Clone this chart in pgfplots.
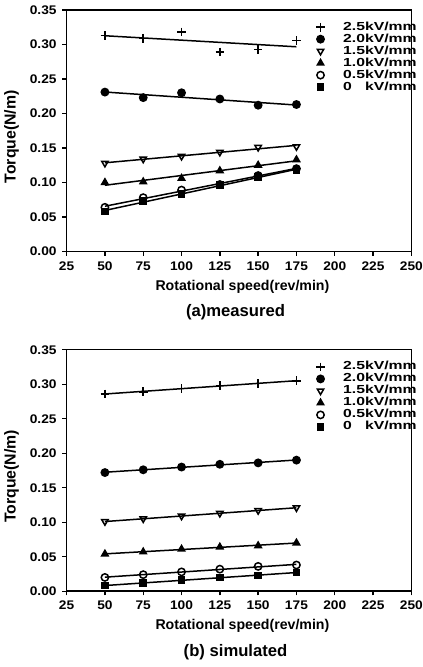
\documentclass[border=0pt]{standalone}
\usepackage{pgfplots}
\usepackage{pgfplotstable}
\pgfplotsset{compat=1.18}
\usepackage{fontspec}
\setmainfont{Liberation Sans}
\newfontfamily\tickfont[FakeStretch=1.1]{Liberation Sans}
\newfontfamily\legfont[FakeStretch=1.35]{Liberation Sans}

% measured torque (N/m) vs rotational speed (rev/min)
\pgfplotstableread{
x   k25    k20    k15    k10    k05    k00
50  0.313  0.231  0.128  0.100  0.064  0.058
75  0.309  0.223  0.134  0.101  0.078  0.073
100 0.318  0.230  0.138  0.106  0.089  0.083
125 0.289  0.221  0.144  0.117  0.097  0.096
150 0.293  0.212  0.151  0.125  0.110  0.108
175 0.306  0.213  0.152  0.133  0.120  0.118
}\measured

% simulated
\pgfplotstableread{
x   k25    k20    k15    k10    k05    k00
50  0.286  0.172  0.101  0.054  0.020  0.008
75  0.289  0.176  0.105  0.057  0.024  0.012
100 0.294  0.180  0.109  0.061  0.028  0.016
125 0.298  0.184  0.113  0.064  0.032  0.020
150 0.301  0.186  0.117  0.066  0.036  0.023
175 0.305  0.190  0.121  0.070  0.038  0.027
}\simulated

\pgfplotsset{
  torque/.style={
    width=207pt, height=145pt, scale only axis,
    xmin=25, xmax=250, ymin=0, ymax=0.35,
    xtick={25,50,75,100,125,150,175,200,225,250},
    ytick={0,0.05,0.1,0.15,0.2,0.25,0.3,0.35},
    yticklabel style={/pgf/number format/.cd, fixed, fixed zerofill, precision=2},
    /pgf/number format/assume math mode=true,
    tick align=outside, xtick pos=bottom, ytick pos=left,
    major tick length=2.5pt,
    tick label style={font=\tickfont\fontsize{7.5}{8}\selectfont\bfseries},
    axis line style={line width=0.9pt},
    every tick/.style={black, line width=0.8pt},
    xlabel={Rotational speed(rev/min)},
    ylabel={Torque(N/m)},
    xlabel style={font=\fontsize{8.5}{9}\selectfont\bfseries,
      at={(axis description cs:0.51,-0.145)}, anchor=center},
    ylabel style={font=\fontsize{9.5}{11}\selectfont\bfseries,
      at={(axis description cs:-0.16,0.475)}, anchor=center},
    legend style={draw=none, fill=none, inner sep=0pt,
      at={(0.723,0.955)}, anchor=north west,
      font=\legfont\fontsize{7}{7}\selectfont\bfseries,
      column sep=11pt, row sep=0pt,
      nodes={inner sep=0pt, text height=5.4pt, text depth=1.8pt}},
    legend cell align=left,
    clip=false,
    every axis plot/.append style={black, line width=0.9pt, mark size=2.2pt},
  },
  fitline/.style={no marks, forget plot, black, line width=0.9pt},
}

\newcommand{\series}[1]{%
  \addplot[only marks, mark=+, mark size=2.6pt] table[x=x, y=k25]{#1};
  \addplot[only marks, mark=*] table[x=x, y=k20]{#1};
  \addplot[only marks, mark=triangle, mark options={rotate=180, fill=white}] table[x=x, y=k15]{#1};
  \addplot[only marks, mark=triangle*] table[x=x, y=k10]{#1};
  \addplot[only marks, mark=o, mark options={fill=white}] table[x=x, y=k05]{#1};
  \addplot[only marks, mark=square*, mark size=1.8pt] table[x=x, y=k00]{#1};
  \addplot[fitline] table[x=x, y={create col/linear regression={y=k25}}]{#1};
  \addplot[fitline] table[x=x, y={create col/linear regression={y=k20}}]{#1};
  \addplot[fitline] table[x=x, y={create col/linear regression={y=k15}}]{#1};
  \addplot[fitline] table[x=x, y={create col/linear regression={y=k10}}]{#1};
  \addplot[fitline] table[x=x, y={create col/linear regression={y=k05}}]{#1};
  \addplot[fitline] table[x=x, y={create col/linear regression={y=k00}}]{#1};
  \legend{2.5kV/mm, 2.0kV/mm, 1.5kV/mm, 1.0kV/mm, 0.5kV/mm, {0\ \ \ kV/mm}}
}

\begin{document}
\begin{tikzpicture}
\begin{axis}[torque, at={(0,0)}, anchor=north west]
\series{\measured}
\node[font=\fontsize{10}{11}\selectfont\bfseries, yshift=-36.6pt] at (rel axis cs:0.49,0) {(a)measured};
\end{axis}

\begin{axis}[torque, at={(0,-204pt)}, anchor=north west]
\series{\simulated}
\node[font=\fontsize{10}{11}\selectfont\bfseries, yshift=-36.6pt] at (rel axis cs:0.49,0) {(b) simulated};
\end{axis}
\pgfresetboundingbox
\useasboundingbox (-40pt,6pt) rectangle (213.6pt,-394.5pt);
\end{tikzpicture}
\end{document}
